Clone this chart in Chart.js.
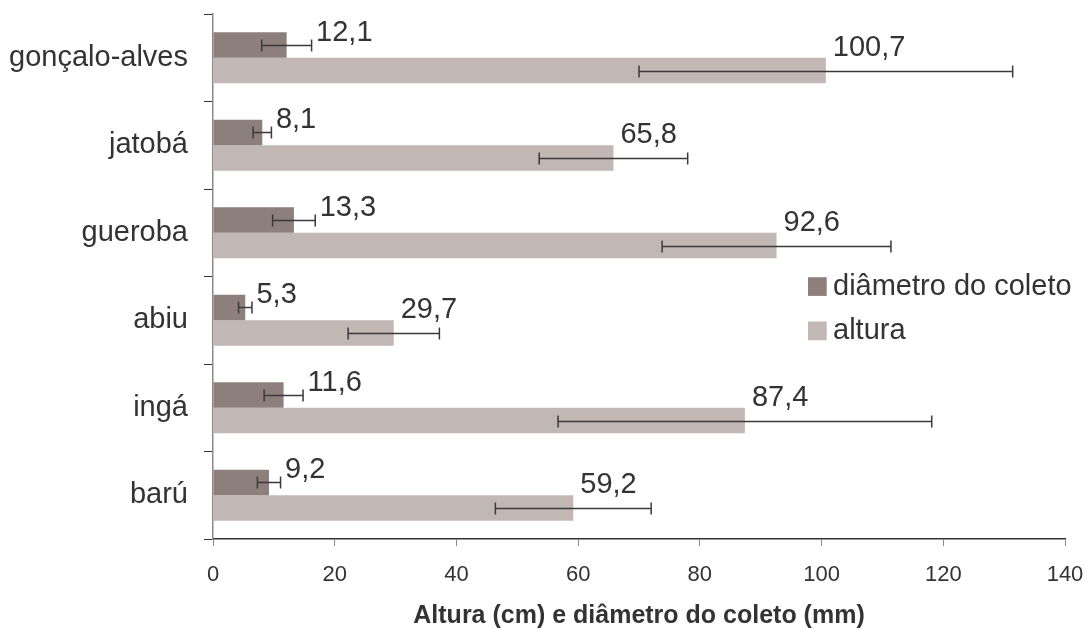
<!DOCTYPE html>
<html>
<head>
<meta charset="utf-8">
<script src="https://cdn.jsdelivr.net/npm/chart.js@4/dist/chart.umd.min.js"></script>
<style>
  html, body { margin: 0; padding: 0; background: #ffffff; }
  canvas { display: block; }
</style>
</head>
<body>
<canvas id="grafico" width="1088" height="629"></canvas>
<script>
// Espécies (de cima para baixo) e médias com desvio
const especies = ['gonçalo-alves', 'jatobá', 'gueroba', 'abiu', 'ingá', 'barú'];
const diametro = [12.1, 8.1, 13.3, 5.3, 11.6, 9.2];
const diametroErro = [4.1, 1.5, 3.5, 1.1, 3.2, 1.9];
const altura = [100.7, 65.8, 92.6, 29.7, 87.4, 59.2];
const alturaErro = [30.7, 12.2, 18.8, 7.5, 30.7, 12.8];
const xTicks = [0, 20, 40, 60, 80, 100, 120, 140];

const FONTE = '"Liberation Sans", Arial, Helvetica, sans-serif';
const COR_TEXTO = '#333333';
const COR_DIAMETRO = '#8d807c';
const COR_ALTURA = '#c1b7b4';

const fmt = v => v.toFixed(1).replace('.', ',');

// Zera o recuo automático que os eixos pedem para os rótulos das pontas
const semRecuo = s => { s.paddingLeft = 0; s.paddingRight = 0; s.paddingTop = 0; s.paddingBottom = 0; };

// Barras de erro (média ± desvio) com traço nas pontas
const barrasErro = {
  id: 'barrasErro',
  afterDatasetsDraw(chart) {
    const { ctx, scales: { x } } = chart;
    ctx.save();
    ctx.strokeStyle = '#3a3a3a';
    ctx.lineWidth = 1.5;
    chart.data.datasets.forEach((ds, i) => {
      chart.getDatasetMeta(i).data.forEach((bar, j) => {
        const v = ds.data[j], e = ds.erros[j];
        const x0 = x.getPixelForValue(v - e);
        const x1 = x.getPixelForValue(v + e);
        const y = Math.round(bar.y) + 0.5;
        ctx.beginPath();
        ctx.moveTo(x0, y); ctx.lineTo(x1, y);
        ctx.moveTo(x0, y - 6); ctx.lineTo(x0, y + 6);
        ctx.moveTo(x1, y - 6); ctx.lineTo(x1, y + 6);
        ctx.stroke();
      });
    });
    ctx.restore();
  }
};

// Rótulos de valor acima/à direita de cada barra
const rotulos = {
  id: 'rotulos',
  afterDatasetsDraw(chart) {
    const { ctx, scales: { x } } = chart;
    ctx.save();
    ctx.font = '29px ' + FONTE;
    ctx.fillStyle = COR_TEXTO;
    ctx.textAlign = 'left';
    ctx.textBaseline = 'middle';
    chart.data.datasets.forEach((ds, i) => {
      chart.getDatasetMeta(i).data.forEach((bar, j) => {
        const v = ds.data[j], e = ds.erros[j];
        let px, py;
        if (i === 0) {
          px = x.getPixelForValue(v + e) + 4.5;
          py = bar.y - 12;
        } else {
          px = bar.x + 7;
          py = bar.y - 23;
        }
        ctx.fillText(fmt(v), px, py);
      });
    });
    ctx.restore();
  }
};

// Legenda dentro da área do gráfico
const legenda = {
  id: 'legenda',
  afterDraw(chart) {
    const { ctx } = chart;
    ctx.save();
    ctx.font = '29px ' + FONTE;
    ctx.textAlign = 'left';
    ctx.textBaseline = 'middle';
    chart.data.datasets.forEach((ds, i) => {
      const cy = 286.5 + i * 44.3;
      ctx.fillStyle = ds.backgroundColor;
      ctx.fillRect(808, cy - 9.3, 18.7, 18.7);
      ctx.fillStyle = COR_TEXTO;
      ctx.fillText(ds.label, 833, cy);
    });
    ctx.restore();
  }
};

new Chart(document.getElementById('grafico'), {
  type: 'bar',
  data: {
    labels: especies,
    datasets: [
      { label: 'diâmetro do coleto', data: diametro, erros: diametroErro, backgroundColor: COR_DIAMETRO },
      { label: 'altura', data: altura, erros: alturaErro, backgroundColor: COR_ALTURA }
    ]
  },
  options: {
    indexAxis: 'y',
    responsive: false,
    animation: false,
    devicePixelRatio: 1,
    layout: { padding: { top: 14, right: 23, bottom: 0, left: 0 } },
    datasets: { bar: { categoryPercentage: 0.585, barPercentage: 1.0, borderWidth: 0 } },
    plugins: {
      legend: { display: false },
      tooltip: { enabled: false }
    },
    scales: {
      x: {
        min: 0, max: 140,
        afterBuildTicks: s => { s.ticks = xTicks.map(v => ({ value: v })); },
        afterFit: s => { s.height = 90; semRecuo(s); },
        ticks: {
          color: COR_TEXTO,
          font: { family: FONTE, size: 22 },
          padding: 16,
          maxRotation: 0,
          callback: v => String(v)
        },
        grid: { drawOnChartArea: false, drawTicks: true, tickLength: 7, color: '#8c8c8c', lineWidth: 1 },
        border: { color: '#333333', width: 1.5 },
        title: {
          display: true,
          text: 'Altura (cm) e diâmetro do coleto (mm)',
          color: COR_TEXTO,
          font: { family: FONTE, size: 25, weight: 'bold', lineHeight: 1 },
          padding: { top: 0, bottom: 0 }
        }
      },
      y: {
        afterFit: s => { s.width = 213; semRecuo(s); },
        ticks: {
          color: COR_TEXTO,
          font: { family: FONTE, size: 29 },
          padding: 16
        },
        grid: { drawOnChartArea: false, drawTicks: true, tickLength: 9, color: '#333333', lineWidth: 1, offset: true },
        border: { color: '#8a8a8a', width: 1.5 }
      }
    }
  },
  plugins: [barrasErro, rotulos, legenda]
});
</script>
</body>
</html>
